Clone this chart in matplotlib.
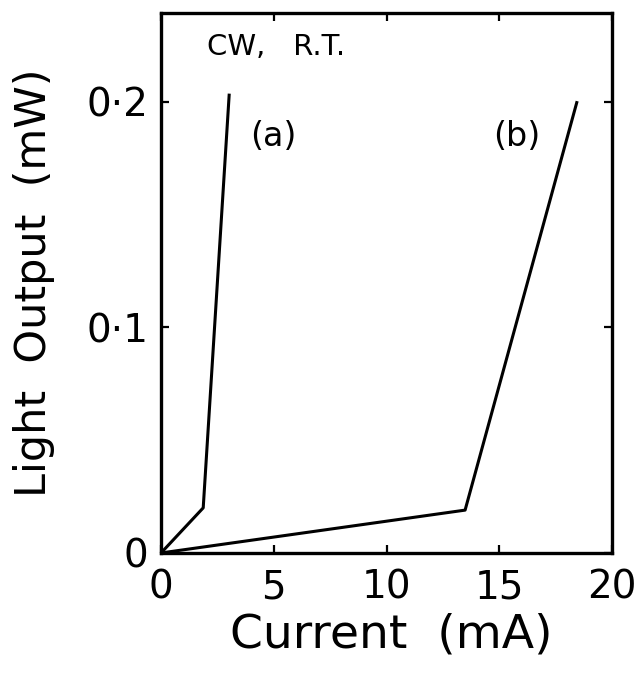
import matplotlib
matplotlib.use("Agg")
import matplotlib.pyplot as plt

# curve (a): current (mA) vs light output (mW)
current_a = [0.0, 1.87, 3.02]
light_a = [0.0, 0.020, 0.203]

# curve (b)
current_b = [0.0, 13.48, 18.43]
light_b = [0.0, 0.019, 0.1997]

x_ticks = [0, 5, 10, 15, 20]
y_ticks = [0, 0.1, 0.2]
y_tick_labels = ["0", "0\u00b71", "0\u00b72"]

plt.rcParams["font.family"] = ["DejaVu Sans"]

fig = plt.figure(figsize=(6.39, 6.76), dpi=100)
ax = fig.add_axes([0.252, 0.182, 0.706, 0.799])

ax.plot(current_a, light_a, color="black", lw=2.2, solid_joinstyle="round")
ax.plot(current_b, light_b, color="black", lw=2.2, solid_joinstyle="round")

ax.set_xlim(0, 20)
ax.set_ylim(0, 0.2395)
ax.set_xticks(x_ticks)
ax.set_yticks(y_ticks)
ax.set_yticklabels(y_tick_labels)

ax.tick_params(direction="in", length=6, width=1.6, labelsize=28,
               top=True, right=True)
ax.tick_params(axis="x", pad=11)
ax.tick_params(axis="y", pad=9)
for s in ax.spines.values():
    s.set_linewidth(2.4)

ax.set_xlabel("Current  (mA)", fontsize=34)
ax.xaxis.set_label_coords(0.51, -0.11)
ax.set_ylabel("Light  Output  (mW)", fontsize=31)
ax.yaxis.set_label_coords(-0.235, 0.5)

ax.text(2.04, 0.2208, "CW,   R.T.", fontsize=21, va="baseline", ha="left")
ax.text(4.97, 0.1845, "(a)", fontsize=24, va="center", ha="center")
ax.text(15.79, 0.1845, "(b)", fontsize=24, va="center", ha="center")

fig.savefig("out.png", dpi=100)
